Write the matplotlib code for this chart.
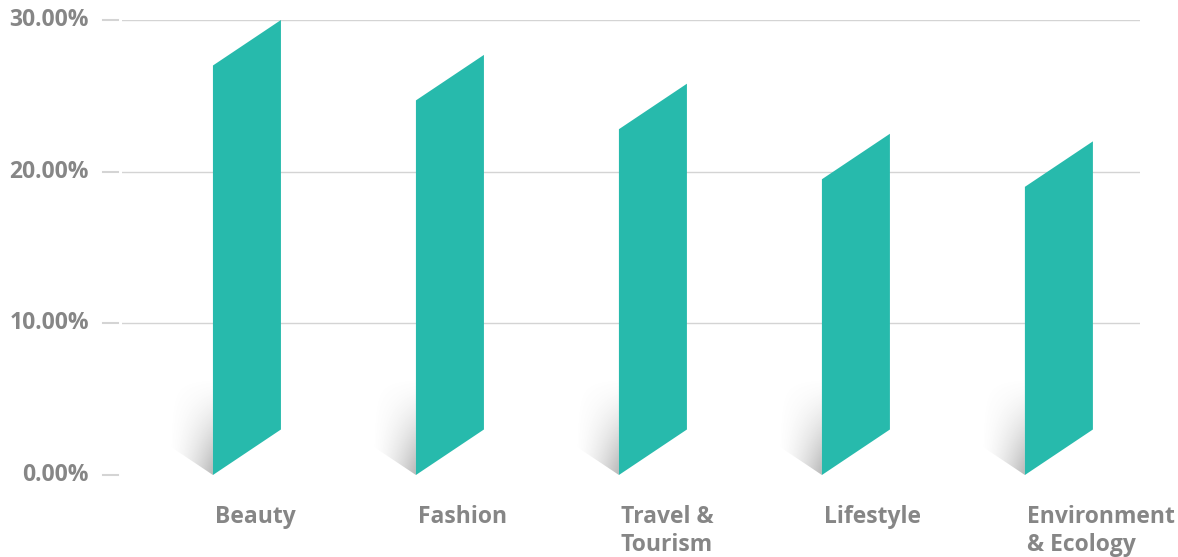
import numpy as np
import matplotlib
matplotlib.use("Agg")
import matplotlib.pyplot as plt
from matplotlib.patches import Polygon
from matplotlib.transforms import blended_transform_factory

categories = ["Beauty", "Fashion", "Travel &\nTourism", "Lifestyle", "Environment\n& Ecology"]
values = [27.0, 24.7, 22.8, 19.5, 19.0]
y_ticks = [0, 10, 20, 30]
y_tick_labels = ["0.00%", "10.00%", "20.00%", "30.00%"]

TEAL = "#27BAAC"
TEXT = "#868686"
GRID = "#d4d4d4"

plt.rcParams["font.family"] = ["Open Sans", "DejaVu Sans"]

fig = plt.figure(figsize=(11.78, 5.57), dpi=100)
ax = fig.add_axes([122 / 1178, 82 / 557, 1018 / 1178, 455 / 557])
ax.set_xlim(-0.448, 4.567)
ax.set_ylim(0, 30)
ax.axis("off")

bar_w = 0.335     # bar width in category units
skew = 3.0        # rise of the right edge, in percent
shadow_w = 0.215  # width of the shadow falling to the left
shadow_h = 6.5    # height the shadow fades out at

# gridlines (none along the base) and the short tick dashes left of them
trans = blended_transform_factory(ax.transAxes, ax.transData)
for t, lab in zip(y_ticks, y_tick_labels):
    if t > 0:
        ax.axhline(t, color=GRID, lw=1.0, zorder=0)
    ax.plot([-19 / 1018, -4 / 1018], [t, t], transform=trans, color=GRID,
            lw=1.5, clip_on=False, zorder=0)
    ax.text(-33 / 1018, t, lab, transform=trans, ha="right", va="center",
            fontsize=16.5, fontweight="bold", color=TEXT)

# shadow gradient: darkest at the bar's bottom corner, fading left and up
ny, nx = 200, 120
gx = np.linspace(0, 1, nx)          # 0 = far left, 1 = bar edge
gy = np.linspace(0, 1, ny)[:, None]  # 0 = base, 1 = top
alpha = (gx ** 1.5) * (1 - gy ** 1.2) ** 1.6 * 0.5
rgba = np.zeros((ny, nx, 4))
rgba[..., :3] = 0.45
rgba[..., 3] = alpha

for i, (cat, v) in enumerate(zip(categories, values)):
    x0 = i
    # shadow
    sh_poly = Polygon([(x0, 0), (x0 - shadow_w, skew * shadow_w / bar_w),
                       (x0 - shadow_w, shadow_h), (x0, shadow_h)],
                      closed=True, facecolor="none", edgecolor="none",
                      transform=ax.transData)
    ax.add_patch(sh_poly)
    im = ax.imshow(rgba, extent=[x0 - shadow_w, x0, 0, shadow_h],
                   origin="lower", aspect="auto", interpolation="bilinear",
                   zorder=1)
    im.set_clip_path(sh_poly)
    # skewed bar
    bar = Polygon([(x0, 0), (x0 + bar_w, skew), (x0 + bar_w, v + skew), (x0, v)],
                  closed=True, facecolor=TEAL, edgecolor="none", zorder=2,
                  clip_on=False)
    ax.add_patch(bar)
    ax.text(x0 + 0.008, -1.95, cat, ha="left", va="top", fontsize=16.5,
            fontweight="bold", color=TEXT, linespacing=1.25)

ax.set_xlim(-0.448, 4.567)
ax.set_ylim(0, 30)

fig.savefig("out.png", dpi=100, facecolor="white")
